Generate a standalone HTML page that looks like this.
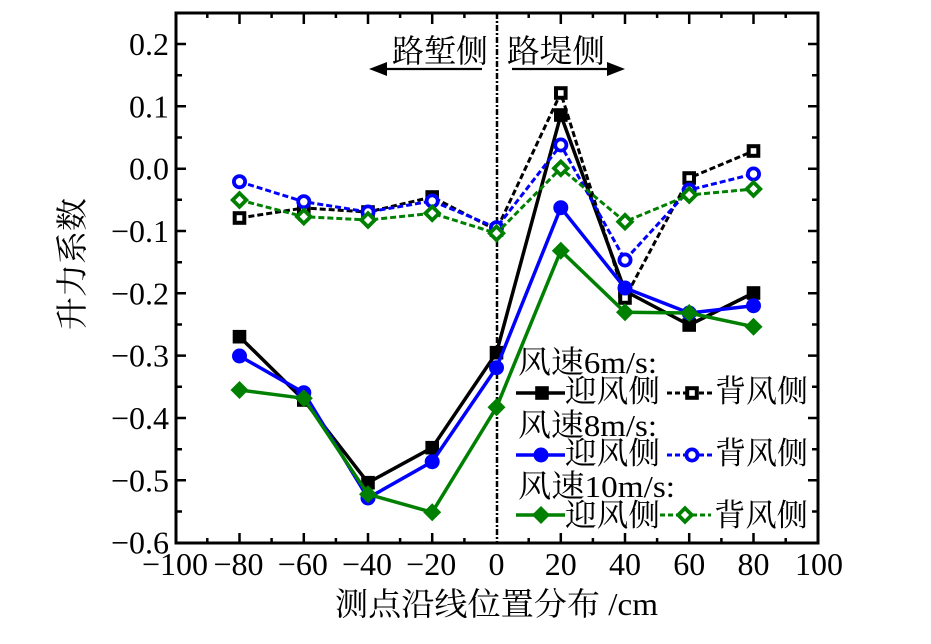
<!DOCTYPE html>
<html><head><meta charset="utf-8"><style>
html,body{margin:0;padding:0;background:#fff;}
svg{display:block;}
text{font-family:"Liberation Serif","Noto Serif CJK SC",serif;fill:#000;}
</style></head><body>
<svg width="931" height="644" viewBox="0 0 931 644" xmlns="http://www.w3.org/2000/svg">
<defs>
<rect id="sqF" x="-6.8" y="-6.8" width="13.6" height="13.6" fill="#000"/>
<rect id="sqO" x="-4.8" y="-4.8" width="9.6" height="9.6" fill="#fff" stroke="#000" stroke-width="4"/>
<circle id="ciF" r="7.5" fill="#0000ff"/>
<circle id="ciO" r="5.6" fill="#fff" stroke="#0000ff" stroke-width="3.8"/>
<polygon id="diF" points="0,-9 9,0 0,9 -9,0" fill="#008000"/>
<polygon id="diO" points="0,-6.8 6.8,0 0,6.8 -6.8,0" fill="#fff" stroke="#008000" stroke-width="3.8"/>
</defs>

<!-- vertical dash-dot line -->
<line x1="497" y1="13" x2="497" y2="543" stroke="#000" stroke-width="2.5" stroke-dasharray="6 2 2 2"/>

<!-- arrows -->
<line x1="482" y1="69" x2="384" y2="69" stroke="#000" stroke-width="2.2"/>
<polygon points="369,69 387,62 387,76" fill="#000"/>
<line x1="512" y1="69" x2="609" y2="69" stroke="#000" stroke-width="2.2"/>
<polygon points="625,69 607,62 607,76" fill="#000"/>
<text x="392" y="62" font-size="32" textLength="96" lengthAdjust="spacingAndGlyphs">路堑侧</text>
<text x="507" y="62" font-size="32" textLength="98" lengthAdjust="spacingAndGlyphs">路堤侧</text>

<!-- series: black solid -->
<polyline fill="none" stroke="#000" stroke-width="3.5" stroke-linejoin="round" points="239.5,336.7 303.8,400 368,482.7 432.2,447.7 496.5,352.7 560.8,115 625,291 689.2,325 753.5,293"/>
<use href="#sqF" x="239.5" y="336.7"/><use href="#sqF" x="303.8" y="400"/><use href="#sqF" x="368" y="482.7"/><use href="#sqF" x="432.2" y="447.7"/><use href="#sqF" x="496.5" y="352.7"/><use href="#sqF" x="560.8" y="115"/><use href="#sqF" x="625" y="291"/><use href="#sqF" x="689.2" y="325"/><use href="#sqF" x="753.5" y="293"/>
<!-- black dashed -->
<polyline fill="none" stroke="#000" stroke-width="3" stroke-dasharray="6 3" points="239.5,218 303.8,208 368,212 432.2,197 496.5,230 560.8,93 625,298 689.2,178 753.5,151"/>
<use href="#sqO" x="239.5" y="218"/><use href="#sqO" x="303.8" y="208"/><use href="#sqO" x="368" y="212"/><use href="#sqO" x="432.2" y="197"/><use href="#sqO" x="496.5" y="230"/><use href="#sqO" x="560.8" y="93"/><use href="#sqO" x="625" y="298"/><use href="#sqO" x="689.2" y="178"/><use href="#sqO" x="753.5" y="151"/>
<!-- blue solid -->
<polyline fill="none" stroke="#0000ff" stroke-width="3.5" stroke-linejoin="round" points="239.5,356 303.8,392.7 368,498 432.2,461.7 496.5,367.7 560.8,207.7 625,288 689.2,313 753.5,305.7"/>
<use href="#ciF" x="239.5" y="356"/><use href="#ciF" x="303.8" y="392.7"/><use href="#ciF" x="368" y="498"/><use href="#ciF" x="432.2" y="461.7"/><use href="#ciF" x="496.5" y="367.7"/><use href="#ciF" x="560.8" y="207.7"/><use href="#ciF" x="625" y="288"/><use href="#ciF" x="689.2" y="313"/><use href="#ciF" x="753.5" y="305.7"/>
<!-- blue dashed -->
<polyline fill="none" stroke="#0000ff" stroke-width="3" stroke-dasharray="6 3" points="239.5,181.7 303.8,201.7 368,212 432.2,201 496.5,227.7 560.8,145 625,260 689.2,190 753.5,174"/>
<use href="#ciO" x="239.5" y="181.7"/><use href="#ciO" x="303.8" y="201.7"/><use href="#ciO" x="368" y="212"/><use href="#ciO" x="432.2" y="201"/><use href="#ciO" x="496.5" y="227.7"/><use href="#ciO" x="560.8" y="145"/><use href="#ciO" x="625" y="260"/><use href="#ciO" x="689.2" y="190"/><use href="#ciO" x="753.5" y="174"/>
<!-- green solid -->
<polyline fill="none" stroke="#008000" stroke-width="3.5" stroke-linejoin="round" points="239.5,390 303.8,398.3 368,494.3 432.2,512.3 496.5,407.3 560.8,250.7 625,312.3 689.2,313 753.5,326.7"/>
<use href="#diF" x="239.5" y="390"/><use href="#diF" x="303.8" y="398.3"/><use href="#diF" x="368" y="494.3"/><use href="#diF" x="432.2" y="512.3"/><use href="#diF" x="496.5" y="407.3"/><use href="#diF" x="560.8" y="250.7"/><use href="#diF" x="625" y="312.3"/><use href="#diF" x="689.2" y="313"/><use href="#diF" x="753.5" y="326.7"/>
<!-- green dashed -->
<polyline fill="none" stroke="#008000" stroke-width="3" stroke-dasharray="6 3" points="239.5,200 303.8,216.7 368,220 432.2,213.3 496.5,233.3 560.8,168.3 625,221.7 689.2,195 753.5,189"/>
<use href="#diO" x="239.5" y="200"/><use href="#diO" x="303.8" y="216.7"/><use href="#diO" x="368" y="220"/><use href="#diO" x="432.2" y="213.3"/><use href="#diO" x="496.5" y="233.3"/><use href="#diO" x="560.8" y="168.3"/><use href="#diO" x="625" y="221.7"/><use href="#diO" x="689.2" y="195"/><use href="#diO" x="753.5" y="189"/>

<!-- legend -->
<text x="518" y="373" font-size="31" textLength="139" lengthAdjust="spacingAndGlyphs">风速6m/s:</text>
<line x1="516" y1="393" x2="565" y2="393" stroke="#000" stroke-width="3.5"/>
<use href="#sqF" x="542" y="393"/>
<text x="565" y="402" font-size="31" textLength="95" lengthAdjust="spacingAndGlyphs">迎风侧</text>
<line x1="667" y1="393" x2="715" y2="393" stroke="#000" stroke-width="3" stroke-dasharray="5 3"/>
<use href="#sqO" x="692" y="393"/>
<text x="715" y="402" font-size="31" textLength="93" lengthAdjust="spacingAndGlyphs">背风侧</text>

<text x="518" y="436" font-size="31" textLength="139" lengthAdjust="spacingAndGlyphs">风速8m/s:</text>
<line x1="516" y1="455" x2="565" y2="455" stroke="#0000ff" stroke-width="3.5"/>
<use href="#ciF" x="541" y="455"/>
<text x="565" y="464" font-size="31" textLength="95" lengthAdjust="spacingAndGlyphs">迎风侧</text>
<line x1="667" y1="455" x2="715" y2="455" stroke="#0000ff" stroke-width="3" stroke-dasharray="5 3"/>
<use href="#ciO" x="692" y="455"/>
<text x="715" y="464" font-size="31" textLength="93" lengthAdjust="spacingAndGlyphs">背风侧</text>

<text x="518" y="497" font-size="31" textLength="157" lengthAdjust="spacingAndGlyphs">风速10m/s:</text>
<line x1="516" y1="515" x2="565" y2="515" stroke="#008000" stroke-width="3.5"/>
<use href="#diF" x="541" y="515"/>
<text x="565" y="526" font-size="31" textLength="95" lengthAdjust="spacingAndGlyphs">迎风侧</text>
<line x1="660" y1="515" x2="711" y2="515" stroke="#008000" stroke-width="3" stroke-dasharray="5 3"/>
<use href="#diO" x="685" y="515"/>
<text x="714" y="526" font-size="31" textLength="94" lengthAdjust="spacingAndGlyphs">背风侧</text>

<!-- frame -->
<rect x="176" y="13" width="642" height="530" fill="none" stroke="#000" stroke-width="3"/>

<!-- ticks -->
<g stroke="#000" stroke-width="2.5">
<path d="M239.5,543V533 M303.8,543V533 M368,543V533 M432.2,543V533 M560.8,543V533 M625,543V533 M689.2,543V533 M753.5,543V533
M239.5,13V24 M303.8,13V24 M368,13V24 M432.2,13V24 M560.8,13V24 M625,13V24 M689.2,13V24 M753.5,13V24"/>
<path d="M207.3,543V538 M271.6,543V538 M335.9,543V538 M400.1,543V538 M464.4,543V538 M528.7,543V538 M592.9,543V538 M657.1,543V538 M721.4,543V538 M785.7,543V538
M207.3,13V18 M271.6,13V18 M335.9,13V18 M400.1,13V18 M464.4,13V18 M528.7,13V18 M592.9,13V18 M657.1,13V18 M721.4,13V18 M785.7,13V18"/>
<path d="M176,44H186 M176,106.3H186 M176,168.7H186 M176,231H186 M176,293.3H186 M176,355.6H186 M176,418H186 M176,480.3H186
M818,44H808 M818,106.3H808 M818,168.7H808 M818,231H808 M818,293.3H808 M818,355.6H808 M818,418H808 M818,480.3H808"/>
<path d="M176,75.2H182 M176,137.5H182 M176,199.8H182 M176,262.2H182 M176,324.5H182 M176,386.8H182 M176,449.2H182 M176,511.5H182
M818,75.2H812 M818,137.5H812 M818,199.8H812 M818,262.2H812 M818,324.5H812 M818,386.8H812 M818,449.2H812 M818,511.5H812"/>
</g>

<!-- y tick labels -->
<g font-size="32" text-anchor="end">
<text x="169" y="55">0.2</text>
<text x="169" y="117.3">0.1</text>
<text x="169" y="179.7">0.0</text>
<text x="169" y="242">−0.1</text>
<text x="169" y="304.3">−0.2</text>
<text x="169" y="366.6">−0.3</text>
<text x="169" y="429">−0.4</text>
<text x="169" y="491.3">−0.5</text>
<text x="169" y="553.7">−0.6</text>
</g>

<!-- x tick labels -->
<g font-size="32" text-anchor="middle">
<text x="175" y="575">−100</text>
<text x="238.5" y="575">−80</text>
<text x="302.8" y="575">−60</text>
<text x="367" y="575">−40</text>
<text x="431.2" y="575">−20</text>
<text x="496.5" y="575">0</text>
<text x="560.8" y="575">20</text>
<text x="625" y="575">40</text>
<text x="689.2" y="575">60</text>
<text x="753.5" y="575">80</text>
<text x="819" y="575">100</text>
</g>

<!-- axis titles -->
<text x="335" y="615" font-size="32" textLength="323" lengthAdjust="spacingAndGlyphs">测点沿线位置分布 /cm</text>
<text transform="translate(83,264) rotate(-90)" font-size="32" text-anchor="middle" textLength="132" lengthAdjust="spacingAndGlyphs">升力系数</text>
</svg>
</body></html>
